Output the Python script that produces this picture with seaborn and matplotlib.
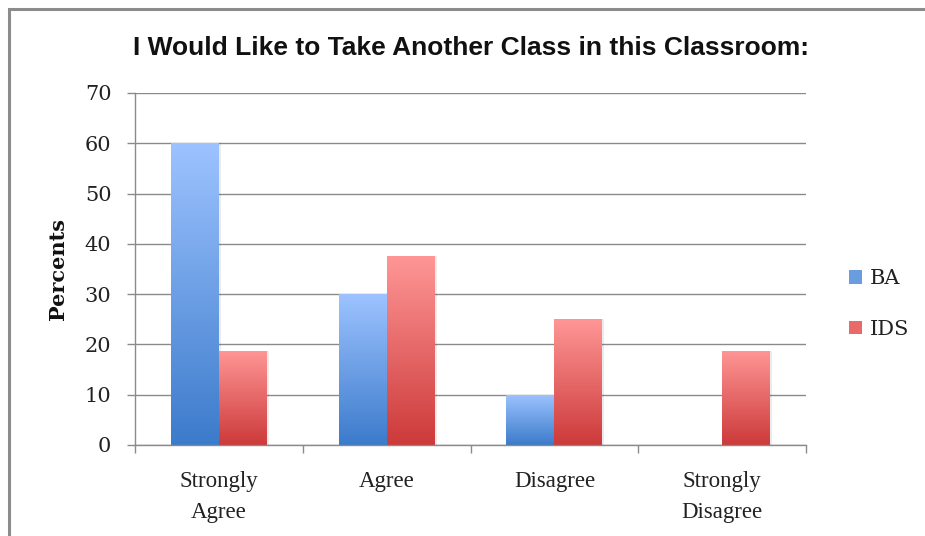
import numpy as np
import pandas as pd
import matplotlib
matplotlib.use("Agg")
import matplotlib.pyplot as plt
from matplotlib.colors import LinearSegmentedColormap
from matplotlib.patches import Rectangle, Patch
import seaborn as sns

categories = ["Strongly\nAgree", "Agree", "Disagree", "Strongly\nDisagree"]
series_names = ["BA", "IDS"]
ba_values = [60, 30, 10, 0]
ids_values = [18.75, 37.5, 25, 18.75]
y_ticks = [0, 10, 20, 30, 40, 50, 60, 70]

# light top / dark bottom gradient colours for each series
grad_colors = {
    "BA": ("#9dc3ff", "#3c7bcb"),
    "IDS": ("#ff9696", "#cd3a3a"),
}

df = pd.DataFrame({
    "category": categories * 2,
    "series": [series_names[0]] * len(categories) + [series_names[1]] * len(categories),
    "value": ba_values + ids_values,
})

sns.set_theme(style="white")
serif = ["Liberation Serif", "DejaVu Serif"]
wide_serif = ["DejaVu Serif", "Liberation Serif"]
plt.rcParams["font.family"] = serif

fig = plt.figure(figsize=(9.25, 5.36), dpi=100)
ax = fig.add_axes([135 / 925, 1 - 445 / 536, (806 - 135) / 925, (445 - 93) / 536])

mid = {k: v[1] for k, v in grad_colors.items()}
sns.barplot(data=df, x="category", y="value", hue="series", order=categories,
            hue_order=series_names, palette=mid, width=0.572, gap=0,
            saturation=1, ax=ax, legend=False, linewidth=0)

# replace flat fills with vertical gradients clipped to each bar
grad = np.linspace(0, 1, 256).reshape(-1, 1)
bars = list(ax.patches)
n = len(categories)
for i, p in enumerate(bars):
    name = series_names[i // n]
    top_c, bot_c = grad_colors[name]
    cmap = LinearSegmentedColormap.from_list(name, [top_c, bot_c])
    x0, y0 = p.get_x(), p.get_y()
    w, h = p.get_width(), p.get_height()
    if h <= 0:
        continue
    # soft shadow to the right
    ax.add_patch(Rectangle((x0 + w, y0), 0.012, h, facecolor="#000000",
                           alpha=0.08, linewidth=0, zorder=1.5))
    p.set_facecolor("none")
    im = ax.imshow(grad, cmap=cmap, aspect="auto", extent=(x0, x0 + w, y0, y0 + h),
                   origin="upper", zorder=2, interpolation="bilinear")
    im.set_clip_path(p)

ax.set_xlim(-0.5, len(categories) - 0.5)
ax.set_ylim(0, 70)
ax.set_yticks(y_ticks)
ax.set_yticklabels([str(t) for t in y_ticks], family=wide_serif)
ax.yaxis.grid(True, color="#8a8a8a", linewidth=1.0)
ax.set_axisbelow(True)

for s in ["top", "right"]:
    ax.spines[s].set_visible(False)
for s in ["left", "bottom"]:
    ax.spines[s].set_color("#8a8a8a")
    ax.spines[s].set_linewidth(1.0)

ax.tick_params(axis="y", which="major", direction="out", length=6, width=1,
               color="#8a8a8a", pad=11, labelsize=15, labelcolor="#222222", left=True)
ax.set_xticks(np.arange(len(categories)))
ax.set_xticklabels(categories, linespacing=1.6)
ax.set_xticks(np.arange(-0.5, len(categories)), minor=True)
ax.tick_params(axis="x", which="major", length=0, pad=19, labelsize=16.5, labelcolor="#222222")
ax.tick_params(axis="x", which="minor", direction="out", length=6, width=1,
               color="#8a8a8a", bottom=True)
for lbl in ax.get_xticklabels():
    lbl.set_verticalalignment("top")

ax.set_xlabel("")
ax.set_ylabel("Percents", fontsize=15, fontweight="bold", color="#111111",
              labelpad=12, family=wide_serif)

fig.text(471 / 925, 1 - 48 / 536, "I Would Like to Take Another Class in this Classroom:",
         ha="center", va="center", fontsize=19, fontweight="bold",
         family=["Liberation Sans", "DejaVu Sans"], color="#111111")

# legend
handles = [Patch(facecolor="#6a9de0", edgecolor="none"), Patch(facecolor="#e86a6a", edgecolor="none")]
leg = fig.legend(handles, series_names, loc="center left",
                 bbox_to_anchor=(830 / 925, 1 - 304 / 536), frameon=False,
                 prop={"family": wide_serif, "size": 15},
                 handlelength=0.62, handleheight=0.62, handletextpad=0.4,
                 labelspacing=1.5, labelcolor="#222222")

# outer frame around the chart area
fig.add_artist(Rectangle((9 / 925, -0.2), 1.5, 1.2 - 9 / 536, transform=fig.transFigure,
                         fill=False, edgecolor="#8c8c8c", linewidth=2.2))

fig.savefig("out.png", dpi=100, facecolor="white")
